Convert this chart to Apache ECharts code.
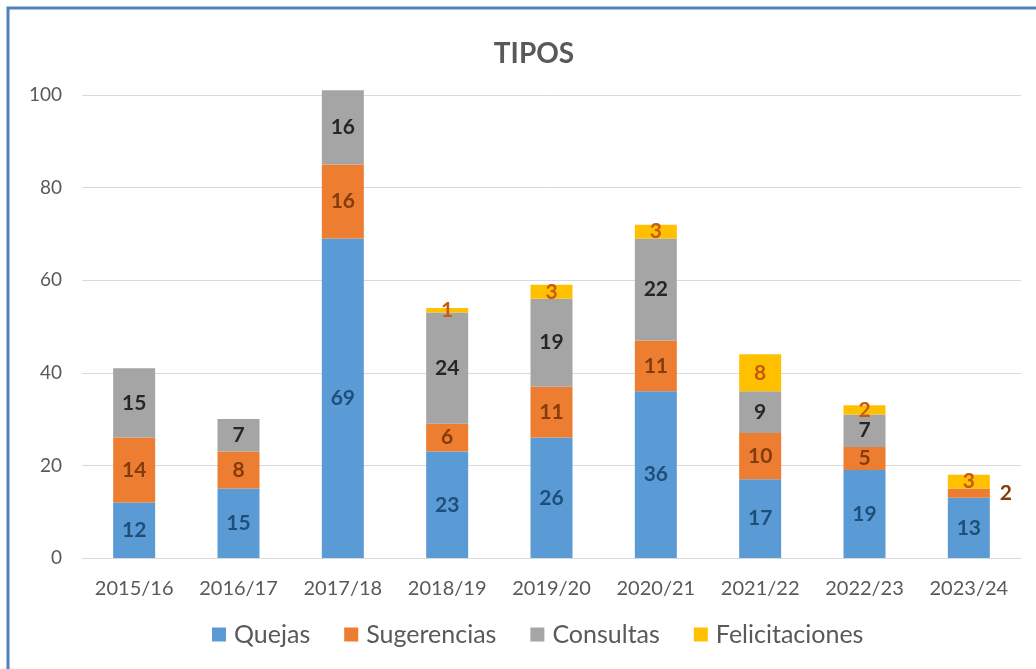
<!DOCTYPE html>
<html><head><meta charset="utf-8">
<script src="https://cdn.jsdelivr.net/npm/echarts@6/dist/echarts.min.js"></script>
<style>html,body{margin:0;padding:0;background:#fff}#c{width:1036px;height:669px}</style>
</head><body><div id="c"></div>
<script>
const categories = ['2015/16','2016/17','2017/18','2018/19','2019/20','2020/21','2021/22','2022/23','2023/24'];
const quejas = [12,15,69,23,26,36,17,19,13];
const sugerencias = [14,8,16,6,11,11,10,5,2];
const consultas = [15,7,16,24,19,22,9,7,0];
const felicitaciones = [0,0,0,1,3,3,8,2,3];
const yTicks = [0,20,40,60,80,100];

const FONT = 'Lato, "Open Sans", sans-serif';
function lbl(color){
  return {show:true, position:'inside', color:color, fontFamily:FONT, fontWeight:'bold', fontSize:21,
    formatter:p=>p.value===0?'':String(p.value)};
}
const sugData = sugerencias.map((v,i)=> i===categories.length-1 ?
  {value:v, label:{position:'right', distance:10}} : v);

const chart = echarts.init(document.getElementById('c'));
chart.setOption({
  animation:false,
  title:{text:'TIPOS', left:529, top:35, textAlign:'center',
    textStyle:{fontFamily:FONT, fontWeight:'bold', fontSize:28, color:'#595959'}},
  graphic:[{type:'polyline', shape:{points:[[8,669],[8,8],[1036,8]]},
    style:{stroke:'#4F81BD', lineWidth:3, fill:null}, silent:true}],
  grid:{left:82, right:15, top:95, bottom:111},
  legend:{top:617, left:207, itemWidth:14, itemHeight:14, itemGap:34,
    icon:'rect', textStyle:{fontFamily:FONT, fontSize:25, color:'#595959', padding:[0,0,0,3]},
    data:['Quejas','Sugerencias','Consultas','Felicitaciones']},
  xAxis:{type:'category', data:categories,
    axisLine:{lineStyle:{color:'#d9d9d9', width:1}}, axisTick:{show:false},
    axisLabel:{interval:0, fontFamily:FONT, fontSize:20, color:'#595959', margin:21}},
  yAxis:{type:'value', min:0, max:100, interval:20,
    axisLine:{show:false}, axisTick:{show:false},
    splitLine:{lineStyle:{color:'#d9d9d9', width:1}},
    axisLabel:{fontFamily:FONT, fontSize:19, color:'#595959', margin:20,
      formatter:v=>yTicks.includes(v)?String(v):''}},
  series:[
    {name:'Quejas', type:'bar', stack:'t', barWidth:42, clip:false, data:quejas,
      itemStyle:{color:'#5B9BD5'}, label:lbl('#1F4E79')},
    {name:'Sugerencias', type:'bar', stack:'t', barWidth:42, clip:false, data:sugData,
      itemStyle:{color:'#ED7D31'}, label:lbl('#843C0C')},
    {name:'Consultas', type:'bar', stack:'t', barWidth:42, clip:false, data:consultas,
      itemStyle:{color:'#A5A5A5'}, label:lbl('#262626')},
    {name:'Felicitaciones', type:'bar', stack:'t', barWidth:42, clip:false, data:felicitaciones,
      itemStyle:{color:'#FFC000'}, label:lbl('#C55A11')}
  ]
});
</script></body></html>
